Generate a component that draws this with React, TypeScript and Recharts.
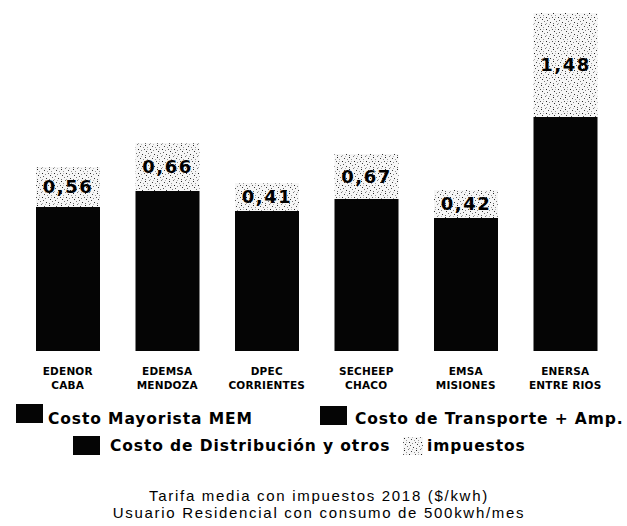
import React from 'react';
import { BarChart, Bar, XAxis, YAxis, LabelList } from 'recharts';

// Distribuidoras (two-line category labels)
const empresas = ['EDENOR', 'EDEMSA', 'DPEC', 'SECHEEP', 'EMSA', 'ENERSA'];
const regiones = ['CABA', 'MENDOZA', 'CORRIENTES', 'CHACO', 'MISIONES', 'ENTRE RIOS'];
// Costs (mayorista + transporte + distribución; indistinguishable in the scan) and taxes, in bar-height units
const costos = [1.44, 1.6, 1.4, 1.52, 1.33, 2.34];
const impuestos = [0.4, 0.48, 0.28, 0.45, 0.28, 1.04];
// Tarifa media con impuestos ($/kwh) printed on each bar
const tarifas = ['0,56', '0,66', '0,41', '0,67', '0,42', '1,48'];

const legendItems = [
  { name: 'Costo Mayorista MEM', kind: 'solid' },
  { name: 'Costo de Transporte + Amp.', kind: 'solid' },
  { name: 'Costo de Distribución y otros', kind: 'solid' },
  { name: 'Impuestos', kind: 'speckle' },
];
const titleLines = ['Tarifa media con impuestos 2018 ($/kwh)', 'Usuario Residencial con consumo de 500kwh/mes'];

const data = empresas.map((e, i) => ({
  name: e,
  region: regiones[i],
  costo: costos[i],
  impuestos: impuestos[i],
  tarifa: tarifas[i],
}));

const dots: [number, number, string][] = [
  [1, 1, '#222'], [5, 0, '#777'], [8, 2, '#444'], [3, 3, '#999'], [0, 5, '#555'],
  [6, 5, '#222'], [9, 6, '#888'], [2, 7, '#333'], [4, 9, '#777'], [7, 8, '#555'],
  [10, 10, '#333'], [11, 3, '#999'], [1, 11, '#666'], [6, 11, '#aaa'], [9, 0, '#bbb'],
  [3, 5, '#bbb'],
];

const SpeckleDefs = ({ id }: { id: string }) => (
  <defs>
    <pattern id={id} width={12} height={12} patternUnits="userSpaceOnUse">
      <rect x={0} y={0} width={12} height={12} fill="#f6f6f6" />
      {dots.map(([x, y, c], k) => (
        <rect key={k} x={x} y={y} width={1} height={1} fill={c} />
      ))}
    </pattern>
  </defs>
);

const CatTick = (props: any) => {
  const { x, y, index } = props;
  return (
    <text
      x={x}
      y={y}
      textAnchor="middle"
      fill="#000"
      fontFamily="'DejaVu Sans', sans-serif"
      fontWeight="bold"
      fontSize={10.5}
      letterSpacing={0.2}
    >
      <tspan x={x} dy={16}>{empresas[index]}</tspan>
      <tspan x={x} dy={14}>{regiones[index]}</tspan>
    </text>
  );
};

const legendFont: React.CSSProperties = {
  position: 'absolute',
  fontFamily: "'DejaVu Sans', sans-serif",
  fontWeight: 'bold',
  fontSize: 15.5,
  letterSpacing: 0.9,
  lineHeight: '20px',
  whiteSpace: 'nowrap',
  color: '#000',
};

const legendPos = [
  { sx: 16, sy: 404, tx: 48, ty: 409 },
  { sx: 320, sy: 406, tx: 355, ty: 409 },
  { sx: 73, sy: 436, tx: 110, ty: 436 },
  { sx: 403, sy: 437, tx: 427, ty: 436 },
];

export default function App() {
  return (
    <div style={{ position: 'absolute', left: 0, top: 0, width: 627, height: 526, background: '#fff' }}>
      <BarChart width={627} height={400} data={data} margin={{ top: 1, right: 12, bottom: 0, left: 18 }} barSize={64}>
        <SpeckleDefs id="speckle" />
        <XAxis dataKey="name" axisLine={false} tickLine={false} height={49} tick={<CatTick />} interval={0} />
        <YAxis hide domain={[0, 3.5]} />
        <Bar dataKey="costo" stackId="a" fill="#050505" isAnimationActive={false} />
        <Bar dataKey="impuestos" stackId="a" fill="url(#speckle)" isAnimationActive={false}>
          <LabelList
            dataKey="tarifa"
            position="center"
            fill="#000"
            fontFamily="'DejaVu Sans', sans-serif"
            fontWeight="bold"
            fontSize={18}
            letterSpacing={1.5}
          />
        </Bar>
      </BarChart>
      {legendItems.map((it, i) => {
        const p = legendPos[i];
        return (
          <React.Fragment key={it.name}>
            {it.kind === 'solid' ? (
              <div style={{ position: 'absolute', left: p.sx, top: p.sy, width: 27, height: 19, background: '#050505' }} />
            ) : (
              <svg style={{ position: 'absolute', left: p.sx, top: p.sy }} width={20} height={18}>
                <SpeckleDefs id="speckle-legend" />
                <rect x={0} y={0} width={20} height={18} fill="url(#speckle-legend)" />
              </svg>
            )}
            <div style={{ ...legendFont, left: p.tx, top: p.ty }}>
              {i === 3 ? it.name.toLowerCase() : it.name}
            </div>
          </React.Fragment>
        );
      })}
      {titleLines.map((t, i) => (
        <div
          key={t}
          style={{
            position: 'absolute',
            left: 0,
            width: 638,
            top: 488 + i * 17,
            textAlign: 'center',
            fontFamily: "'Liberation Sans', Arial, sans-serif",
            fontSize: 15,
            letterSpacing: 1.7,
            lineHeight: '16px',
            whiteSpace: 'nowrap',
            color: '#000',
          }}
        >
          {t}
        </div>
      ))}
    </div>
  );
}
